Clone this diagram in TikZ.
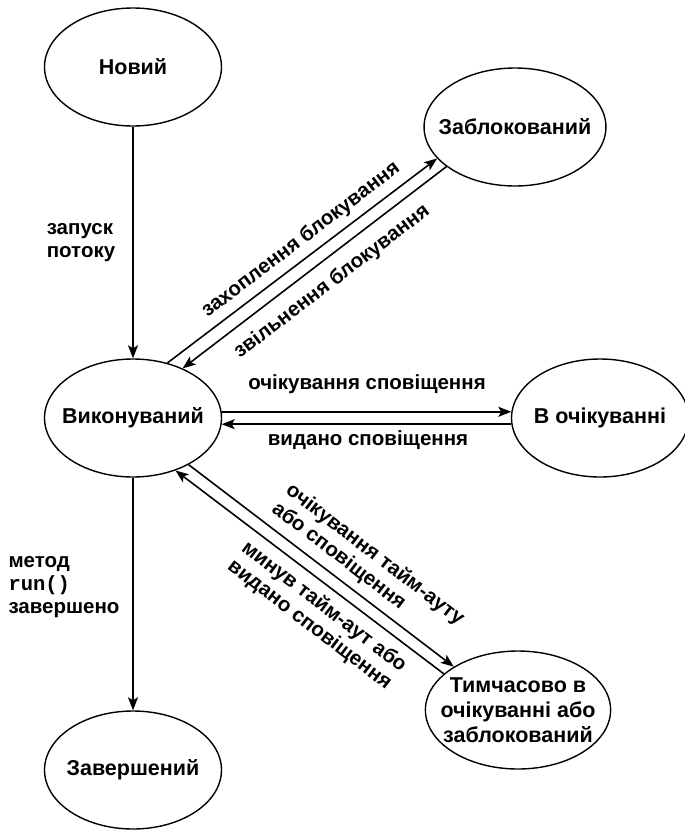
\documentclass[tikz,border=0pt]{standalone}
\usepackage{fontspec}
\setmainfont{Liberation Sans}
\setmonofont{Liberation Mono}
\usetikzlibrary{arrows.meta,shapes.geometric}

\tikzset{
  state/.style={ellipse, draw, line width=1.4pt, minimum width=177pt,
    minimum height=118pt, inner sep=-12pt, align=center,
    font=\fontsize{21.5}{25}\selectfont\bfseries},
  trans/.style={-{Stealth[length=13pt,width=10pt,inset=3pt]}, line width=1.6pt},
  lbl/.style={align=left},
}

\begin{document}
\begin{tikzpicture}[x=1pt,y=-1pt,font=\fontsize{20.5}{23}\selectfont\bfseries]
  \useasboundingbox (0,0) rectangle (685,830);
  % states
  \node[state] (new) at (133,67) {Новий};
  \node[state] (blk) at (515,127) {Заблокований};
  \node[state] (run) at (133,418) {Виконуваний};
  \node[state] (wait) at (600,418) {В очікуванні};
  \node[state] (tmp) at (518,710) {Тимчасово в\\очікуванні або\\заблокований};
  \node[state] (done) at (133,770) {Завершений};
  % transitions
  \draw[trans] (new) -- (run);
  \draw[trans] (run) -- (done);
  \draw[trans] (run.58) -- (blk.202);
  \draw[trans] (blk.210) -- (run.45);
  \draw[trans] (run.4) -- (wait.176);
  \draw[trans] (wait.184) -- (run.-4);
  \draw[trans] (run.-40) -- (tmp.146);
  \draw[trans] (tmp.154) -- (run.-51);
  % labels
  \node[lbl] (startL) at (81,243) {запуск\\потоку};
  \node[lbl, anchor=west] (endL) at (5,587) {метод\\\texttt{run()}\\завершено};
  \node[rotate=37.3] (lockL) at (301,240) {захоплення блокування};
  \node[rotate=37.3] (unlockL) at (332,282) {звільнення блокування};
  \node (waitL) at (367,384) {очікування сповіщення};
  \node (notifyL) at (368,440) {видано сповіщення};
  \node[rotate=-37.4, lbl] (twaitL) at (368,564) {очікування тайм-ауту\\або сповіщення};
  \node[rotate=-37.4, lbl] (tdoneL) at (317,616) {минув тайм-аут або\\видано сповіщення};
\end{tikzpicture}
\end{document}
